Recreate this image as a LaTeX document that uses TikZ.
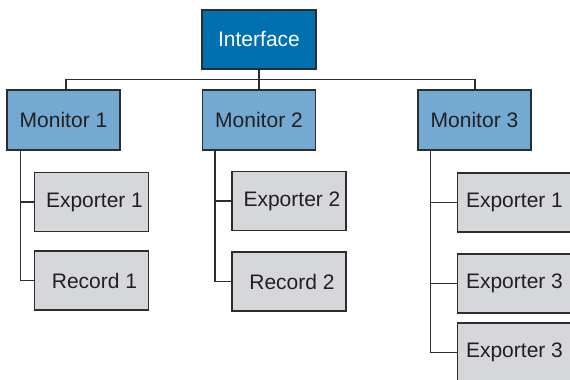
\documentclass[tikz,border=0pt]{standalone}
\usepackage{fontspec}
\setmainfont{Liberation Sans}
\usetikzlibrary{positioning}
\definecolor{IfaceBlue}{RGB}{0,112,176}
\definecolor{MonBlue}{RGB}{116,170,210}
\definecolor{LeafGray}{RGB}{214,215,218}
\definecolor{EdgeGray}{RGB}{45,45,45}
\definecolor{InkGray}{RGB}{35,31,32}

\tikzset{
    box/.style={
        draw=EdgeGray,
        line width=1.1pt,
        inner sep=0pt,
        font=\fontsize{21}{25}\selectfont
    },
    ifacebox/.style={box, fill=IfaceBlue, text=white,
        minimum width=114pt, minimum height=59pt},
    monbox/.style={box, fill=MonBlue, text=InkGray,
        minimum width=113pt, minimum height=60pt},
    leafbox/.style={box, fill=LeafGray, text=InkGray,
        minimum width=114pt, minimum height=59pt},
    link/.style={draw=EdgeGray, line width=1.1pt}
}

\begin{document}
\begin{tikzpicture}[
    x=1pt,
    y=-1pt
]

% Frame
\clip (0,0) rectangle (570,380);

% Top
\node[ifacebox] (iface) at (259,39.5) {Interface};

% Monitors
\node[monbox] (mon1) at (63.5,120) {Monitor 1};
\node[monbox] (mon2) at (259,120) {Monitor 2};
\node[monbox] (mon3) at (474.5,120) {Monitor 3};

% Leaves
\node[leafbox] (exp1) at (91.5,202) {\hspace{6pt}Exporter 1};
\node[leafbox] (rec1) at (91.5,280.5) {\hspace{6pt}Record 1};

\node[leafbox] (exp2) at (289,201) {\hspace{6pt}Exporter 2};
\node[leafbox] (rec2) at (289,281.5) {\hspace{6pt}Record 2};

\node[leafbox] (exp31) at (514.5,202.5) {Exporter 1\hspace{2pt}};
\node[leafbox] (exp32) at (514.5,283.5) {Exporter 3\hspace{2pt}};
\node[leafbox] (exp33) at (514.5,352.5) {Exporter 3\hspace{2pt}};

% Bus
\draw[link] (iface.south) -- (mon2.north);
\draw[link] ([xshift=2.5pt]mon1.north) -- ++(0,-10) -| ([xshift=0.5pt]mon3.north);

% Trunks
\draw[link] ([xshift=14pt]mon1.south west) |- (exp1.west);
\draw[link] ([xshift=14pt]mon1.south west) |- (rec1.west);

\draw[link] ([xshift=13pt]mon2.south west) |- (exp2.west);
\draw[link] ([xshift=13pt]mon2.south west) |- (rec2.west);

\draw[link] ([xshift=13pt]mon3.south west) |- (exp31.west);
\draw[link] ([xshift=13pt]mon3.south west) |- (exp32.west);
\draw[link] ([xshift=13pt]mon3.south west) |- (exp33.west);

\end{tikzpicture}
\end{document}
